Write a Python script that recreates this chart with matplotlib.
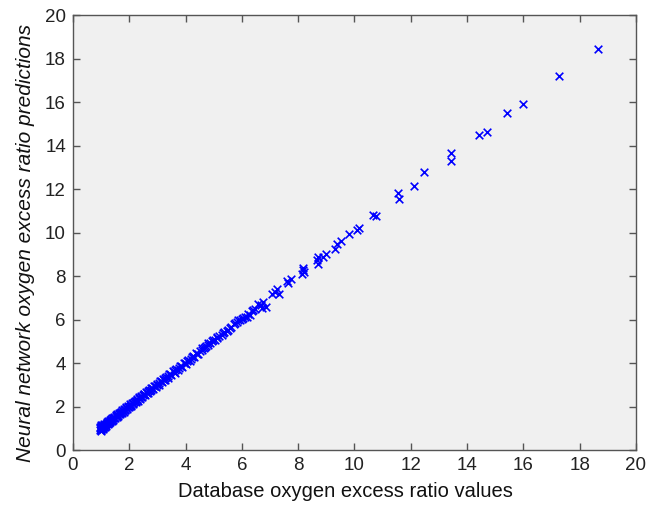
# Neural network predictions against database values for the oxygen excess ratio
import matplotlib.pyplot as plt

plt.rcParams['font.family'] = ['Liberation Sans', 'DejaVu Sans']

# dense part of the data, roughly 1 to 4.5
db_low = [0.96, 0.97, 0.98, 0.99, 1.00, 1.00, 1.01, 1.02, 1.03, 1.05, 1.06, 1.08,
          1.10, 1.12, 1.14, 1.16, 1.18, 1.20, 1.23, 1.25, 1.28, 1.30, 1.33, 1.35,
          1.38, 1.40, 1.43, 1.46, 1.49, 1.52, 1.55, 1.58, 1.61, 1.64, 1.67, 1.70,
          1.73, 1.76, 1.80, 1.83, 1.86, 1.90, 1.93, 1.97, 2.00, 2.04, 2.08, 2.11,
          2.15, 2.19, 2.23, 2.27, 2.31, 2.35, 2.39, 2.43, 2.47, 2.52, 2.56, 2.60,
          2.65, 2.70, 2.74, 2.79, 2.84, 2.89, 2.94, 2.99, 3.04, 3.09, 3.15, 3.20,
          3.26, 3.31, 3.37, 3.43, 3.49, 3.55, 3.61, 3.67, 3.74, 3.80, 3.87, 3.94,
          4.01, 4.08, 4.15, 4.23, 4.30, 4.38, 4.46,
          0.95, 1.00, 1.04, 1.07, 1.11, 1.15, 1.19, 1.22, 1.27, 1.32, 1.37, 1.42,
          1.47, 1.53, 1.57, 1.62, 1.68, 1.72, 1.78, 1.84, 1.88, 1.95, 2.01, 2.06,
          2.13, 2.18, 2.25, 2.29, 2.36, 2.42, 2.49, 2.54, 2.62, 2.68, 2.76, 2.82,
          2.91, 2.97, 3.06, 3.12, 3.22, 3.28, 3.39, 3.46, 3.58, 3.64, 3.77, 3.84,
          3.97, 4.05, 4.19, 4.27, 4.41]
nn_low = [0.93, 1.05, 1.12, 0.98, 1.00, 1.15, 0.90, 1.08, 1.02, 1.18, 0.97, 1.10,
          1.05, 1.20, 1.08, 1.22, 1.12, 1.28, 1.20, 1.33, 1.25, 1.38, 1.30, 1.42,
          1.36, 1.47, 1.40, 1.55, 1.48, 1.60, 1.52, 1.66, 1.58, 1.72, 1.65, 1.78,
          1.70, 1.84, 1.77, 1.90, 1.84, 1.98, 1.90, 2.05, 1.97, 2.12, 2.05, 2.18,
          2.12, 2.26, 2.20, 2.34, 2.27, 2.43, 2.36, 2.50, 2.44, 2.60, 2.52, 2.68,
          2.62, 2.77, 2.70, 2.87, 2.80, 2.97, 2.91, 3.06, 3.00, 3.17, 3.12, 3.28,
          3.22, 3.38, 3.33, 3.50, 3.46, 3.62, 3.57, 3.74, 3.70, 3.87, 3.84, 4.01,
          3.97, 4.15, 4.12, 4.29, 4.27, 4.45, 4.42,
          1.02, 0.95, 1.12, 1.02, 1.14, 1.15, 1.20, 1.26, 1.30, 1.36, 1.41, 1.48,
          1.50, 1.56, 1.62, 1.66, 1.72, 1.76, 1.82, 1.87, 1.93, 1.99, 2.05, 2.10,
          2.17, 2.21, 2.28, 2.33, 2.38, 2.45, 2.53, 2.57, 2.64, 2.72, 2.79, 2.84,
          2.93, 3.00, 3.09, 3.16, 3.24, 3.31, 3.42, 3.50, 3.60, 3.68, 3.79, 3.88,
          3.99, 4.09, 4.21, 4.32, 4.44]

# middle part, 4.5 to 8.5
db_mid = [4.52, 4.57, 4.60, 4.65, 4.69, 4.72, 4.80, 4.81, 4.88, 4.95, 4.98, 5.03,
          5.10, 5.12, 5.20, 5.28, 5.34, 5.38, 5.46, 5.50, 5.58, 5.62, 5.72, 5.75,
          5.82, 5.87, 5.93, 6.00, 6.05, 6.10, 6.17, 6.22, 6.29, 6.35, 6.41, 6.48,
          6.58, 6.67, 6.70, 6.76, 6.86, 7.06, 7.18, 7.26, 7.32, 7.61, 7.65, 7.73,
          8.12, 8.16, 8.18, 8.21]
nn_mid = [4.58, 4.68, 4.62, 4.70, 4.75, 4.78, 4.84, 4.91, 4.93, 5.02, 5.06, 5.08,
          5.21, 5.15, 5.26, 5.32, 5.37, 5.42, 5.49, 5.53, 5.60, 5.66, 5.78, 5.83,
          5.88, 5.98, 5.98, 6.05, 6.06, 6.12, 6.13, 6.26, 6.21, 6.40, 6.44, 6.50,
          6.71, 6.67, 6.56, 6.82, 6.59, 7.17, 7.28, 7.39, 7.20, 7.78, 7.69, 7.85,
          8.12, 8.38, 8.28, 8.20]

# sparse upper part
db_high = [8.66, 8.71, 8.71, 8.87, 8.98, 9.30, 9.39, 9.53, 9.82, 10.08, 10.16,
           10.67, 10.76, 11.56, 11.60, 12.11, 12.48, 13.42, 13.42, 14.42, 14.70,
           15.43, 15.99, 17.26, 18.64]
nn_high = [8.74, 8.89, 8.54, 8.89, 9.04, 9.24, 9.46, 9.61, 9.92, 10.11, 10.22,
           10.82, 10.79, 11.83, 11.57, 12.14, 12.78, 13.67, 13.30, 14.50, 14.61,
           15.49, 15.91, 17.20, 18.45]

db_values = db_low + db_mid + db_high
nn_values = nn_low + nn_mid + nn_high

fig = plt.figure(figsize=(6.57, 5.07), dpi=100)
ax = fig.add_axes([0.111, 0.112, 0.857, 0.858])
ax.set_facecolor('#f0f0f0')

ax.scatter(db_values, nn_values, marker='x', s=30, color='#0000ff', linewidths=1.2)

ax.set_xlim(0, 20)
ax.set_ylim(0, 20)
ax.set_xticks(range(0, 21, 2))
ax.set_yticks(range(0, 21, 2))
ax.tick_params(direction='in', length=5, width=1, top=True, right=True,
               labelsize=13.5, colors='#555555', labelcolor='#222222', pad=5)
for sp in ax.spines.values():
    sp.set_color('#555555')
    sp.set_linewidth(1)

ax.set_xlabel('Database oxygen excess ratio values', fontsize=14.5, color='#111111', labelpad=6)
ax.set_ylabel('Neural network oxygen excess ratio predictions', fontsize=15,
              style='italic', color='#111111', labelpad=7)
# labels sit a little off centre
ax.xaxis.label.set_x(0.484)
ax.yaxis.label.set_y(0.477)

fig.savefig('out.png', dpi=100)
